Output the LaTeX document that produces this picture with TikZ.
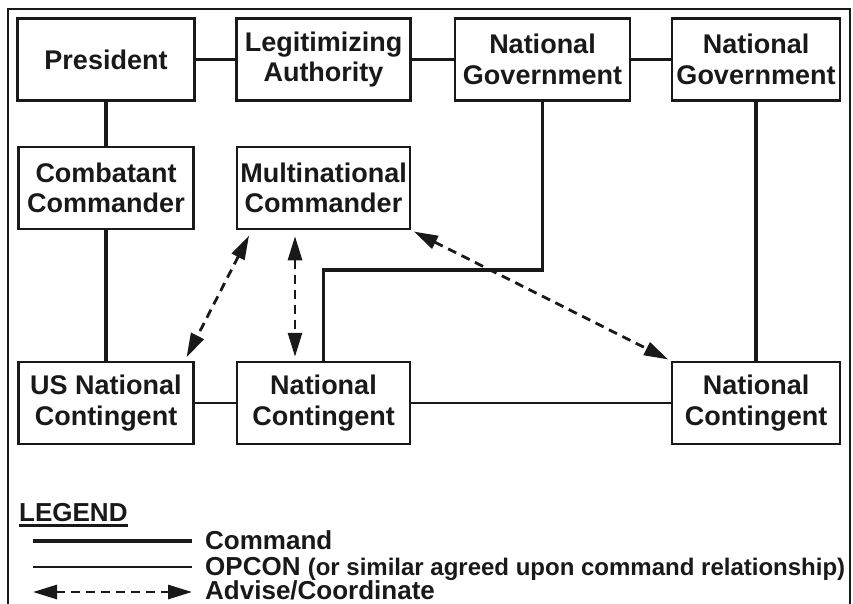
\documentclass[tikz,border=0pt]{standalone}
\usepackage{fontspec}
\setmainfont{Liberation Sans}
\usetikzlibrary{arrows.meta}
\definecolor{ink}{gray}{0.1}
\tikzset{>={Triangle[length=24pt,width=14pt]}}
\tikzset{
  box/.style={draw=ink,line width=2.5pt,minimum height=82pt,inner sep=0pt,
    align=center,text=ink,font=\bfseries\fontsize{27}{30.5}\selectfont},
  key/.style={anchor=base west,inner sep=0pt,text=ink,
    font=\bfseries\fontsize{26}{29}\selectfont},
  cmd/.style={draw=ink,line width=3.5pt},
  opcon/.style={draw=ink,line width=2.3pt},
  advise/.style={draw=ink,line width=2.8pt,dash pattern=on 9pt off 6pt,<->}
}

\begin{document}
\begin{tikzpicture}[x=1pt,y=-1pt]
\useasboundingbox (0,0) rectangle (853,604);

% frame, open at the bottom
\draw[ink,line width=2pt] (8,615) -- (8,9) -- (850,9) -- (850,615);

\foreach \name/\x/\y/\w/\txt in {
  pres/106/59.5/177/{President},
  legit/323.5/59.5/174/{Legitimizing\\Authority},
  gov1/542.5/59.5/175/{National\\Government},
  gov2/756/59.5/168/{National\\Government},
  ccdr/106/188/175/{Combatant\\Commander},
  mncdr/323.5/188/173/{Multinational\\Commander},
  usnc/106/403/175/{US National\\Contingent},
  nc1/323.5/403/173/{National\\Contingent},
  nc2/756/403/168/{National\\Contingent}}
  \node[box,minimum width=\w pt] (\name) at (\x,\y) {\txt};

% command
\draw[cmd] (pres) -- (legit) -- (gov1) -- (gov2);
\draw[cmd] (pres) -- (ccdr) -- (usnc);
\draw[cmd] (gov2) -- (nc2);
\coordinate (jog) at (323.5,270);
\draw[cmd] (gov1.south) |- (jog) -- (nc1.north);

% opcon
\draw[opcon] (usnc) -- (nc1) -- (nc2);

% advise / coordinate
\draw[advise,shorten <=6pt,shorten >=4pt]
  ([xshift=16pt]mncdr.south west) -- ([xshift=-10pt]usnc.north east);
\draw[advise,shorten <=6pt,shorten >=4pt]
  ([xshift=-28.5pt]mncdr.south) -- ([xshift=-28.5pt]nc1.north);
\draw[advise,shorten <=3pt,shorten >=3pt]
  (mncdr.south east) -- (nc2.north west);

% legend
\node[key] (legend) at (19,521) {LEGEND};
\draw[ink,line width=2.2pt]
  ([yshift=-4pt]legend.south west) -- ([yshift=-4pt]legend.south east);

\coordinate (cmdA) at (33,541);
\coordinate (cmdB) at (192,541);
\coordinate (opconA) at (33,567);
\coordinate (opconB) at (192,567);
\coordinate (adviseA) at (33,592);
\coordinate (adviseB) at (192,592);
\draw[cmd] (cmdA) -- (cmdB);
\draw[opcon] (opconA) -- (opconB);
\draw[advise] (adviseA) -- (adviseB);

\node[key] (keycmd) at (205,549) {Command};
\node[key] (keyopcon) at (205,575)
  {OPCON {\fontsize{24}{26}\selectfont(or similar agreed upon command relationship)}};
\node[key] (keyadvise) at (205,599) {Advise/Coordinate};
\end{tikzpicture}
\end{document}
